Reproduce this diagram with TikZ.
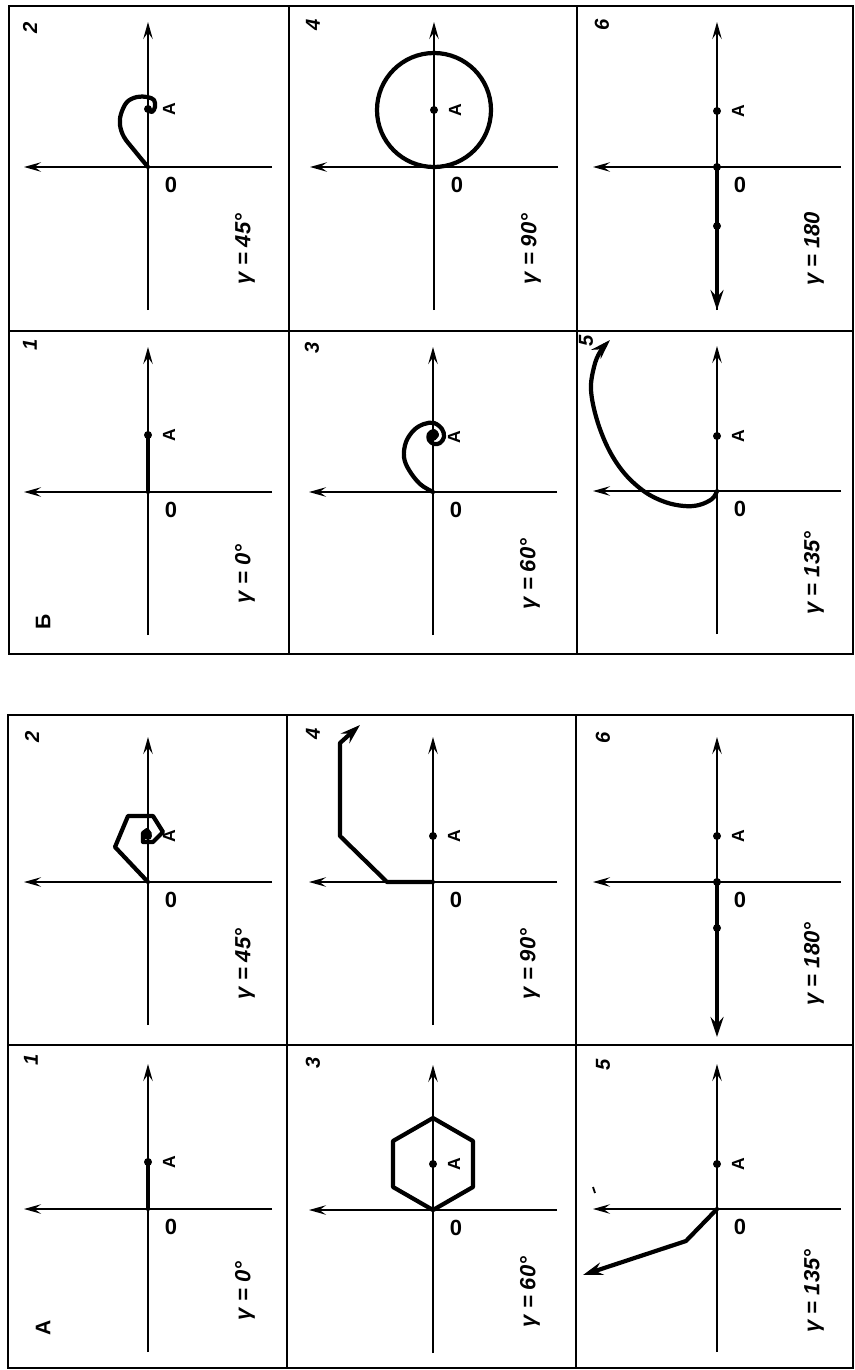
\documentclass[tikz,border=0pt]{standalone}
\usepackage{fontspec}
\setmainfont{Liberation Sans}
\usetikzlibrary{arrows.meta}
\tikzset{
  >={Stealth[length=3.4mm, width=1.9mm, inset=1.3mm]},
  every node/.style={inner sep=0pt},
  frameline/.style={line width=1.3pt},
  axisline/.style={->, line width=0.8pt},
  trajline/.style={line width=2.4pt, line join=round, line cap=round},
  trajarrow/.style={trajline, -{Stealth[length=4mm, width=2.6mm, inset=1.4mm]}},
  pointdot/.style={circle, fill=black, minimum size=1.6mm},
  pointlabel/.style={rotate=90, font=\bfseries\fontsize{10}{12}\selectfont},
  zerolabel/.style={font=\bfseries\fontsize{12.5}{14}\selectfont},
  gammalabel/.style={rotate=90, font=\bfseries\itshape\fontsize{12.5}{15}\selectfont},
  panelnum/.style={rotate=90, font=\bfseries\itshape\fontsize{11.5}{14}\selectfont},
  tablelabel/.style={rotate=90, font=\bfseries\fontsize{12}{14}\selectfont}
}

\begin{document}
\begin{tikzpicture}[x=0.02cm, y=-0.02cm]
\useasboundingbox (0,0) rectangle (855,1370);

% Table frames
\draw[frameline] (9,6) rectangle (853,654);
\draw[frameline] (9,331) -- (853,331) (289,6) -- (289,654) (577,6) -- (577,654);
\draw[frameline] (8,715) rectangle (853,1368);
\draw[frameline] (8,1045) -- (853,1045) (287,715) -- (287,1368) (576,715) -- (576,1368);

% Axes, point A and labels of every panel
\foreach \t/\n/\cx/\cy/\u/\g in {B/1/148/492/57/0°, B/2/148/167/58/45°,
    B/3/433/492/55/60°, B/4/434/167/57/90°, B/5/717/491/55/135°, B/6/717/167/56/180,
    A/1/148/1209/47/0°, A/2/148/882/46/45°, A/3/433/1210/46/60°,
    A/4/433/882/46/90°, A/5/717/1209/45/135°, A/6/717/882/46/180°} {
  \begin{scope}[shift={(\cx,\cy)}]
    \coordinate (\t O\n) at (0,0);
    \coordinate (\t R\n) at (124,0);
    \coordinate (\t L\n) at (-124,0);
    \coordinate (\t D\n) at (0,143);
    \coordinate (\t U\n) at (0,-145);
    \draw[axisline] (\t R\n) -- (\t L\n);
    \draw[axisline] (\t D\n) -- (\t U\n);
    \node[pointdot] (\t A\n) at (0,-\u) {};
    \node[pointlabel] (\t a\n) at (21,-\u) {A};
    \node[zerolabel] (\t z\n) at (23,18) {0};
    \node[gammalabel] (\t g\n) at (97,82) {γ = \g};
  \end{scope}
}

% Panel numbers
\foreach \t/\n/\px/\py in {B/1/30/345, B/2/30/28, B/3/312/348, B/4/313/25,
    B/5/586/341, B/6/602/25, A/1/31/1060, A/2/32/737, A/3/313/1063,
    A/4/313/734, A/5/603/1065, A/6/603/738} {
  \node[panelnum] (\t n\n) at (\px,\py) {\n};
}
\node[tablelabel] (tabB) at (43,622) {Б};
\node[tablelabel] (tabA) at (43,1328) {А};

% Table B: continuous paths
\draw[trajline] (BO1) -- (BA1.center);
\begin{scope}[shift={(BO2)}]
  \draw[trajline] plot[smooth, tension=0.6] coordinates {(0,0) (-14,-17) (-24,-30)
    (-28,-42) (-27,-53) (-21,-65) (-11,-70) (-1,-70) (6,-67) (7,-60) (4,-55) (0,-57)};
\end{scope}
\begin{scope}[shift={(BO3)}]
  \draw[trajline] plot[smooth, tension=0.6] coordinates {(0,0) (-13,-8) (-24,-22)
    (-29,-35) (-27,-50) (-19,-62) (-9,-68) (1,-69) (9,-63) (11,-55) (7,-49) (1,-48)
    (-4,-52) (-4,-58) (1,-61) (4,-57) (1,-54)};
\end{scope}
\draw[trajline] (BA4.center) circle[radius=57];
\begin{scope}[shift={(BO5)}]
  \draw[trajarrow] plot[smooth, tension=0.6] coordinates {(0,0) (-5,8) (-18,14)
    (-33,15) (-52,11) (-72,1) (-92,-17) (-108,-41) (-120,-71) (-126,-101) (-123,-124)
    (-117,-139) (-107,-151)};
\end{scope}
\begin{scope}[shift={(BO6)}]
  \coordinate (BE6) at (0,143);
  \node[pointdot] (BP6) at (0,0) {};
  \node[pointdot] (BQ6) at (0,59) {};
  \draw[trajline, line width=1.4pt] (BA6.center) -- (BP6.center);
  \draw[trajarrow] (BP6.center) -- (BE6);
\end{scope}

% Table A: step-by-step paths
\draw[trajline] (AO1) -- (AA1.center);
\begin{scope}[shift={(AO2)}]
  \draw[trajline] (0,0) -- (-33,-35) -- (-20,-66) -- (5,-66) -- (15,-50) -- (5,-40)
    -- (-5,-40) -- (-5,-49) -- (-1,-52) -- (2,-48) -- (0,-46);
\end{scope}
\begin{scope}[shift={(AO3)}]
  \draw[trajline] (0,0) -- (40,-23) -- (40,-69) -- (0,-92) -- (-40,-69) -- (-40,-23) -- cycle;
\end{scope}
\begin{scope}[shift={(AO4)}]
  \draw[trajarrow] (0,0) -- (-46,0) -- (-93,-46) -- (-93,-139) -- (-73,-157);
\end{scope}
\begin{scope}[shift={(AO5)}]
  \draw[trajarrow] (0,0) -- (-31,32) -- (-134,66);
  \draw[line width=1pt] (-124,-22) -- (-122,-16);
\end{scope}
\begin{scope}[shift={(AO6)}]
  \coordinate (AE6) at (0,155);
  \node[pointdot] (AP6) at (0,0) {};
  \node[pointdot] (AQ6) at (0,46) {};
  \draw[trajline, line width=1.4pt] (AA6.center) -- (AP6.center);
  \draw[trajarrow] (AP6.center) -- (AE6);
\end{scope}

\end{tikzpicture}
\end{document}
